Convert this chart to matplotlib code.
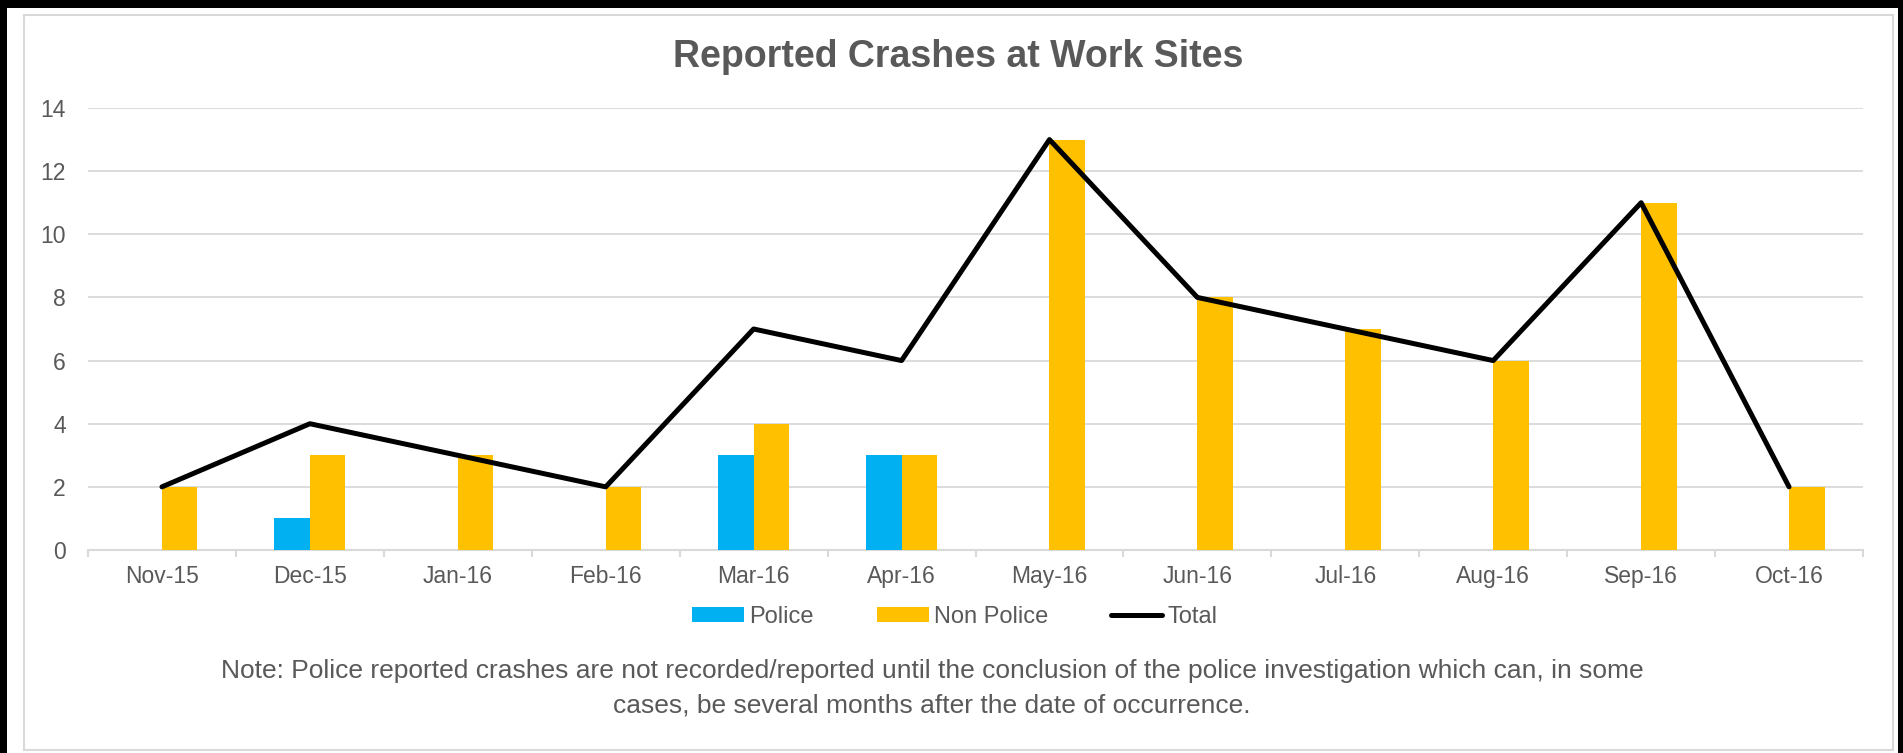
import matplotlib
matplotlib.use("Agg")
import matplotlib.pyplot as plt
from matplotlib.patches import Rectangle, Patch
from matplotlib.lines import Line2D
import numpy as np

# ---- data ----
months = ["Nov-15", "Dec-15", "Jan-16", "Feb-16", "Mar-16", "Apr-16",
          "May-16", "Jun-16", "Jul-16", "Aug-16", "Sep-16", "Oct-16"]
police = [0, 1, 0, 0, 3, 3, 0, 0, 0, 0, 0, 0]
non_police = [2, 3, 3, 2, 4, 3, 13, 8, 7, 6, 11, 2]
total = [2, 4, 3, 2, 7, 6, 13, 8, 7, 6, 11, 2]
y_ticks = [0, 2, 4, 6, 8, 10, 12, 14]
title = "Reported Crashes at Work Sites"
note_lines = [
    "Note: Police reported crashes are not recorded/reported until the conclusion of the police investigation which can, in some",
    "cases, be several months after the date of occurrence.",
]

# ---- style ----
plt.rcParams['font.family'] = ['Liberation Sans', 'DejaVu Sans']
TXT = "#595959"
GRID = "#D9D9D9"
BLUE = "#00B0F0"
GOLD = "#FFC000"

W, H = 1903, 753
fig = plt.figure(figsize=(W / 100, H / 100), dpi=100)
fig.patch.set_facecolor("white")

def fx(px):
    return px / W

def fy(py):
    return 1 - py / H

# outer black frame (left, top, right)
fig.patches.append(Rectangle((0, 0), fx(7), 1, transform=fig.transFigure,
                             facecolor="black", edgecolor="none", zorder=-2))
fig.patches.append(Rectangle((0, fy(8)), 1, 8 / H, transform=fig.transFigure,
                             facecolor="black", edgecolor="none", zorder=-2))
fig.patches.append(Rectangle((fx(1898), 0), 5 / W, 1, transform=fig.transFigure,
                             facecolor="black", edgecolor="none", zorder=-2))
# inner gray chart border
fig.patches.append(Rectangle((fx(24), fy(750)), fx(1893 - 24), (750 - 15) / H,
                             transform=fig.transFigure, facecolor="none",
                             edgecolor=GRID, linewidth=1.5, zorder=-1))

# ---- axes ----
left, right, top, bottom = 88, 1863, 108, 550
ax = fig.add_axes([fx(left), fy(bottom), fx(right - left), (bottom - top) / H])
ax.set_facecolor("none")

x = np.arange(len(months))
bw = 0.24
ax.bar(x - bw / 2, police, width=bw, color=BLUE, zorder=2)
ax.bar(x + bw / 2, non_police, width=bw, color=GOLD, zorder=2)
ax.plot(x, total, color="black", lw=3.6, zorder=3,
        solid_joinstyle="round", solid_capstyle="round")

ax.set_xlim(-0.5, len(months) - 0.5)
ax.set_ylim(0, 14)
ax.set_yticks(y_ticks)
ax.set_xticks(x)
ax.set_xticklabels(months)
ax.set_xticks(np.arange(len(months) + 1) - 0.5, minor=True)

for s in ["top", "right", "left"]:
    ax.spines[s].set_visible(False)
ax.spines["bottom"].set_color(GRID)
ax.spines["bottom"].set_linewidth(1.5)
ax.spines["bottom"].set_zorder(1)

ax.yaxis.grid(True, color=GRID, lw=1.3, zorder=0)
ax.set_axisbelow(True)

ax.tick_params(axis="x", which="major", length=0, pad=11, labelsize=16.5, labelcolor=TXT)
ax.tick_params(axis="x", which="minor", length=5, width=1.5, color=GRID)
ax.tick_params(axis="y", length=0, pad=16, labelsize=16.5, labelcolor=TXT)

# ---- title ----
fig.text(fx(958), fy(57), title, ha="center", va="center",
         fontsize=27, fontweight="bold", color=TXT)

# ---- legend ----
handles = [Patch(facecolor=BLUE, edgecolor="none"),
           Patch(facecolor=GOLD, edgecolor="none"),
           Line2D([0], [0], color="black", lw=3.6, solid_capstyle="round")]
labels = ["Police", "Non Police", "Total"]
fig.legend(handles, labels, loc="center", bbox_to_anchor=(fx(955), fy(617)),
           ncol=3, frameon=False, fontsize=17, labelcolor=TXT,
           handlelength=2.2, handleheight=0.6, handletextpad=0.22,
           columnspacing=2.65, borderpad=0, borderaxespad=0)

# ---- note ----
fig.text(fx(932), fy(671), note_lines[0], ha="center", va="center",
         fontsize=19, color=TXT)
fig.text(fx(932), fy(705), note_lines[1], ha="center", va="center",
         fontsize=19, color=TXT)

fig.savefig("out.png", dpi=100, facecolor="white")
